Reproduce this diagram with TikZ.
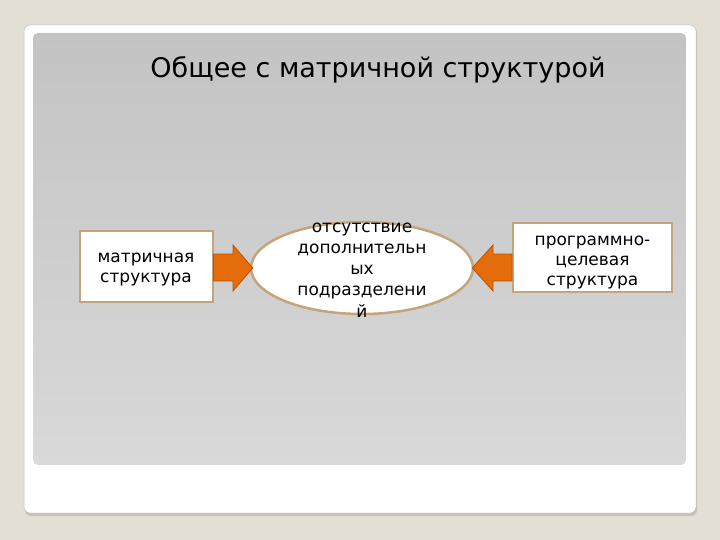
\documentclass[tikz,border=0pt]{standalone}
\usepackage{fontspec}
\setmainfont{DejaVu Sans}
\usetikzlibrary{shapes.geometric,calc}
\definecolor{bgbeige}{HTML}{E3DFD5}
\definecolor{tanline}{HTML}{C4A47C}
\definecolor{orfill}{HTML}{E46C0A}
\definecolor{orline}{HTML}{B85508}
\definecolor{graytop}{HTML}{C3C3C3}
\definecolor{graybot}{HTML}{D9D9D9}
\definecolor{shadowc}{HTML}{C9C1B2}
\tikzset{
  box/.style={draw=tanline, line width=2pt, fill=white, inner sep=0pt},
  boxtext/.style={inner sep=0pt, align=center, font=\fontsize{17}{20}\selectfont},
  blockarrow/.style={fill=orfill, draw=orline, line width=0.8pt, line join=miter},
}
\begin{document}
\begin{tikzpicture}[x=1pt,y=-1pt]
\useasboundingbox (0,0) rectangle (720,540);
\fill[bgbeige] (0,0) rectangle (720,540);
% card
\fill[shadowc, rounded corners=6pt] (25,27) rectangle (697,516);
\fill[white, draw=black!25, line width=0.5pt, rounded corners=6pt] (24,25) rectangle (696,513);
\shade[top color=graytop, bottom color=graybot, rounded corners=5pt] (33,33) rectangle (686,465);
% title
\node (title) at (378,70) {\fontsize{27}{30}\selectfont Общее с матричной структурой};
% left box
\node[box, minimum width=133pt, minimum height=71pt] (left) at (146,266.5) {};
\node[boxtext] (lefttext) at (146,270) {матричная\\структура};
% right box
\node[box, minimum width=159pt, minimum height=69pt] (right) at (592.5,257.5) {};
\node[boxtext] (righttext) at (592.5,263) {программно-\\целевая\\структура};
% ellipse
\node[ellipse, draw=tanline, line width=2.5pt, fill=white, minimum width=222pt, minimum height=92pt, inner sep=0pt] (mid) at (362,268) {};
\node[align=center, inner sep=0pt, font=\fontsize{17}{21.2}\selectfont] (midtext) at (362,270) {отсутствие\\дополнительн\\ых\\подразделени\\й};
% arrows
\coordinate (la) at ($(mid.west)+(3,0)$);
\filldraw[blockarrow] (left.east |- 0,254) -- (233,254) -- (233,245) -- (la) -- (233,291) -- (233,281) -- (left.east |- 0,281) -- cycle;
\coordinate (ra) at ($(mid.east)+(-2,0)$);
\filldraw[blockarrow] (right.west |- 0,254) -- (493,254) -- (493,245) -- (ra) -- (493,291) -- (493,281) -- (right.west |- 0,281) -- cycle;
\end{tikzpicture}
\end{document}
